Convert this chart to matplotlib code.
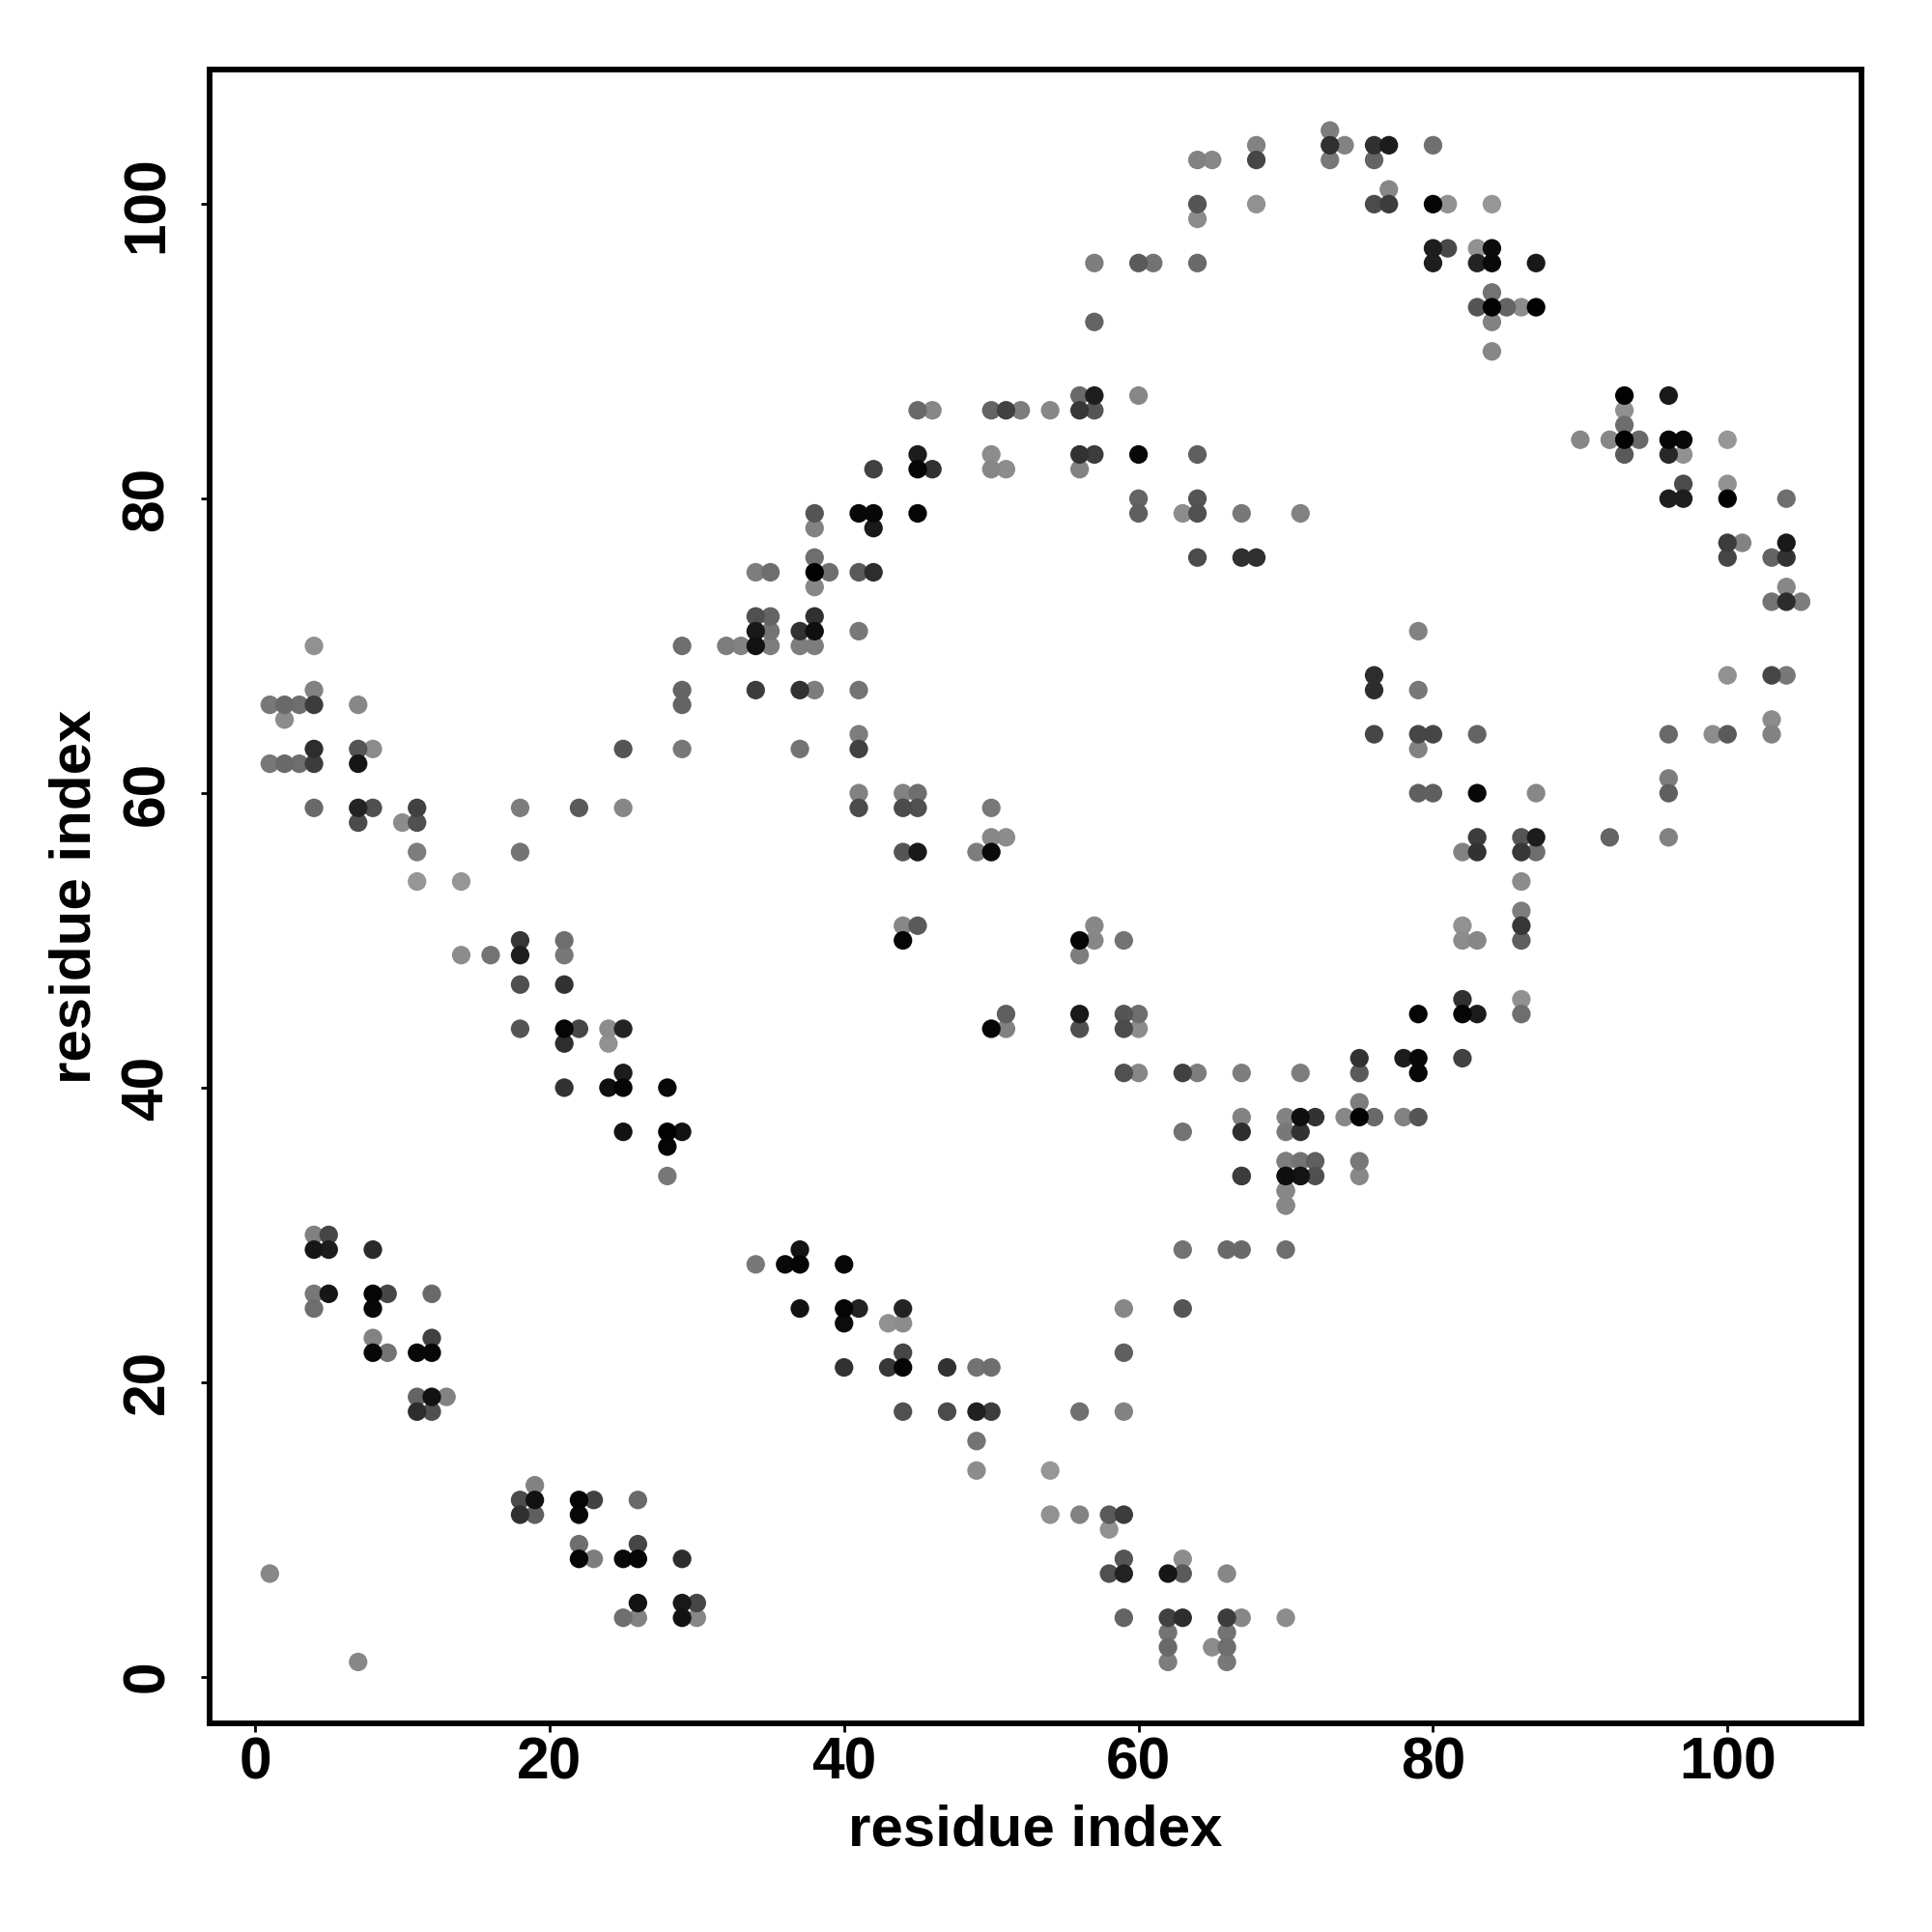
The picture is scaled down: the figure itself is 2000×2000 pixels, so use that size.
import matplotlib
matplotlib.use("Agg")
import matplotlib.pyplot as plt
import numpy as np

# contact positions (residue i, residue j) and grey level of each dot
res_i = [
 4,5,4,5,8,4,5,4,8,9,8,12,8,9,8,11,12,12,11,12,13,11,12,
 19,18,19,18,19,22,23,22,26,22,26,22,23,25,26,29,26,29,30,29,30,25,26,1,7,
 34,36,37,37,40,37,40,41,40,44,43,44,44,40,43,44,47,49,50,
 44,47,49,50,56,59,49,49,54,54,56,58,59,58,59,58,59,62,63,63,66,
 59,62,63,66,67,70,62,62,62,66,66,66,65,
 63,66,67,70,67,70,71,70,70,70,63,59,59,
 4,29,32,33,34,35,35,34,34,35,37,37,4,1,2,3,4,7,2,29,29,34,37,
 4,4,1,2,3,7,8,7,25,29,37,4,7,8,7,10,11,11,18,22,25,
 11,18,11,14,14,16,18,18,21,21,18,21,18,21,22,24,25,21,24,
 25,21,24,25,28,25,28,29,28,28,
 45,46,50,51,52,54,56,57,56,57,60,45,45,46,42,50,50,51,56,57,56,60,64,
 38,38,41,42,42,45,60,60,64,63,64,67,71,64,67,68,38,38,39,38,34,35,41,42,
 38,41,
 44,45,44,45,50,44,45,49,50,50,51,44,45,44,57,56,57,59,56,
 73,73,74,73,76,77,76,80,64,65,68,68,64,64,68,77,76,77,80,81,84,
 80,81,80,83,84,83,84,87,57,60,61,64,57,84,83,84,85,86,87,84,84,79,
 93,96,93,93,90,92,93,94,93,96,97,100,96,97,97,96,97,100,100,104,
 100,101,100,104,103,104,104,103,104,105,76,76,79,76,79,80,79,83,79,80,83,87,
 83,82,83,86,87,86,87,92,96,96,99,100,103,103,96,96,100,103,104,86,86,86,86,82,82,83,
 51,50,51,56,56,59,60,59,60,59,60,63,64,67,71,75,75,78,79,79,82,79,82,83,86,86,
 75,74,75,76,78,79,67,67,63,70,71,72,70,71,70,71,72,75,67,70,71,72,75,70,70,
 38,38,38,41,41,41,41,41,82,
]
res_j = [
 30,30,29,29,29,26,26,25,26,26,25,26,23,22,22,22,22,23,19,19,19,18,18,
 13,12,12,11,11,12,12,11,12,9,9,8,8,8,8,8,5,5,5,4,4,4,4,7,1,
 28,28,28,29,28,25,25,25,24,25,24,24,22,21,21,21,21,21,21,
 18,18,18,18,18,18,16,14,14,11,11,11,11,10,8,7,7,7,7,8,7,
 4,4,4,4,4,4,3,2,1,3,2,1,2,
 29,29,29,29,34,34,34,33,32,35,25,25,22,
 70,70,70,70,70,70,71,71,72,72,71,70,67,66,66,66,66,66,65,67,66,67,67,
 63,62,62,62,62,63,63,62,63,63,63,59,59,59,58,58,59,58,59,59,59,
 56,56,54,54,49,49,50,49,50,49,47,47,44,44,44,44,44,43,43,
 41,40,40,40,40,37,37,37,36,34,
 86,86,86,86,86,86,86,86,87,87,87,83,82,82,82,83,82,82,83,83,82,83,83,
 79,78,79,79,78,79,80,79,80,79,79,79,79,76,76,76,76,75,75,74,75,75,75,75,
 67,67,
 60,60,59,59,59,56,56,56,56,57,57,51,51,50,51,50,50,50,49,
 105,104,104,103,104,104,103,104,103,103,104,103,100,99,100,101,100,100,100,100,100,
 97,97,96,97,97,96,96,96,96,96,96,96,92,94,93,93,93,93,93,92,90,71,
 87,87,86,85,84,84,84,84,83,84,84,84,83,83,81,80,80,81,80,80,
 77,77,76,77,76,76,74,73,73,73,68,67,67,64,64,64,63,64,60,60,60,60,
 57,56,56,57,57,56,56,57,57,64,64,64,65,64,61,60,68,68,68,54,52,51,50,51,50,50,
 45,44,44,45,44,45,45,44,44,41,41,41,41,41,41,42,41,42,42,41,42,45,46,45,46,45,
 39,38,38,38,38,38,38,37,37,38,38,38,37,37,35,35,35,35,34,34,34,34,34,33,32,
 72,71,70,71,64,63,60,59,45,
]
grey = [
 128,70,22,28,42,120,22,110,5,70,8,105,130,115,8,8,8,65,100,18,130,45,80,
 130,75,18,48,95,5,65,8,105,110,70,5,125,10,5,45,18,25,70,18,135,110,130,135,135,
 120,10,5,20,8,18,5,35,12,35,145,140,70,50,55,5,50,115,110,
 80,75,32,60,112,130,115,140,150,145,130,90,60,145,85,80,35,22,90,140,135,
 100,65,45,60,135,140,115,105,125,115,110,120,140,
 115,105,105,110,65,20,20,140,135,130,85,135,95,
 145,110,125,130,18,125,115,25,80,100,50,125,130,120,105,110,60,135,140,100,100,60,50,
 45,60,120,105,110,85,140,22,85,120,115,105,35,80,75,140,65,80,125,90,135,
 125,115,150,150,140,115,55,30,110,120,80,50,85,5,70,140,35,45,145,
 28,50,15,5,8,18,2,18,5,120,
 105,135,100,65,125,135,55,85,105,30,135,28,5,50,65,140,135,140,50,60,130,8,95,
 85,130,8,8,25,5,100,95,85,140,80,120,130,75,48,48,110,2,110,135,125,110,90,45,
 125,115,
 130,110,75,80,120,85,25,125,10,135,140,135,90,5,135,5,135,115,125,
 125,48,130,120,48,28,100,112,130,135,130,70,85,140,145,135,75,60,5,145,150,
 30,72,30,145,12,35,10,25,125,90,115,105,100,115,85,2,100,140,2,130,135,130,
 2,25,145,110,135,135,2,105,90,5,8,150,40,145,75,30,30,145,2,110,
 60,130,70,25,100,50,135,115,45,125,45,45,120,70,70,70,130,100,95,95,8,135,
 60,130,50,85,28,55,110,100,130,105,140,90,140,130,125,95,145,70,120,140,125,55,95,145,140,135,
 95,5,130,25,80,85,110,75,140,80,135,65,125,125,125,50,90,28,8,8,65,5,48,28,145,110,
 125,135,2,105,130,85,130,45,115,130,15,50,120,50,125,115,95,120,60,15,22,80,135,135,135,
 48,15,125,120,125,65,130,75,5,
]
assert len(res_i) == len(res_j) == len(grey)
x_ticks = [0, 20, 40, 60, 80, 100]
y_ticks = [0, 20, 40, 60, 80, 100]
x_label = "residue index"
y_label = "residue index"

plt.rcParams['font.family'] = ['Liberation Sans', 'DejaVu Sans']
fig = plt.figure(figsize=(10, 10), dpi=200)
L, R, T, B = 216.5, 1927, 72, 1783.7
ax = fig.add_axes([L/2000, 1-B/2000, (R-L)/2000, (B-T)/2000])

xs = np.array(res_i); ys = np.array(res_j); gs = np.array(grey)
order = np.argsort(-gs, kind='stable')
ax.scatter(xs[order], ys[order], c=gs[order], cmap='gray', vmin=0, vmax=255,
           s=48, linewidths=0, zorder=3)
ax.set_xlim(-3.12, 109.1)
ax.set_ylim(-3.15, 109.14)
ax.set_xticks(x_ticks)
ax.set_yticks(y_ticks)
for sp in ax.spines.values():
    sp.set_linewidth(2.1)
ax.tick_params(axis='both', length=3.2, width=1.0, labelsize=21.8)
ax.tick_params(axis='x', pad=1.6)
ax.tick_params(axis='y', pad=9.2)
for t in ax.get_xticklabels() + ax.get_yticklabels():
    t.set_fontweight('bold')
for t in ax.get_yticklabels():
    t.set_rotation(90)
    t.set_va('center')
ax.set_xlabel(x_label, fontsize=21.6, fontweight='bold', labelpad=5.0)
ax.set_ylabel(y_label, fontsize=21.6, fontweight='bold', labelpad=7.0)
fig.savefig("out.png", dpi=200)
